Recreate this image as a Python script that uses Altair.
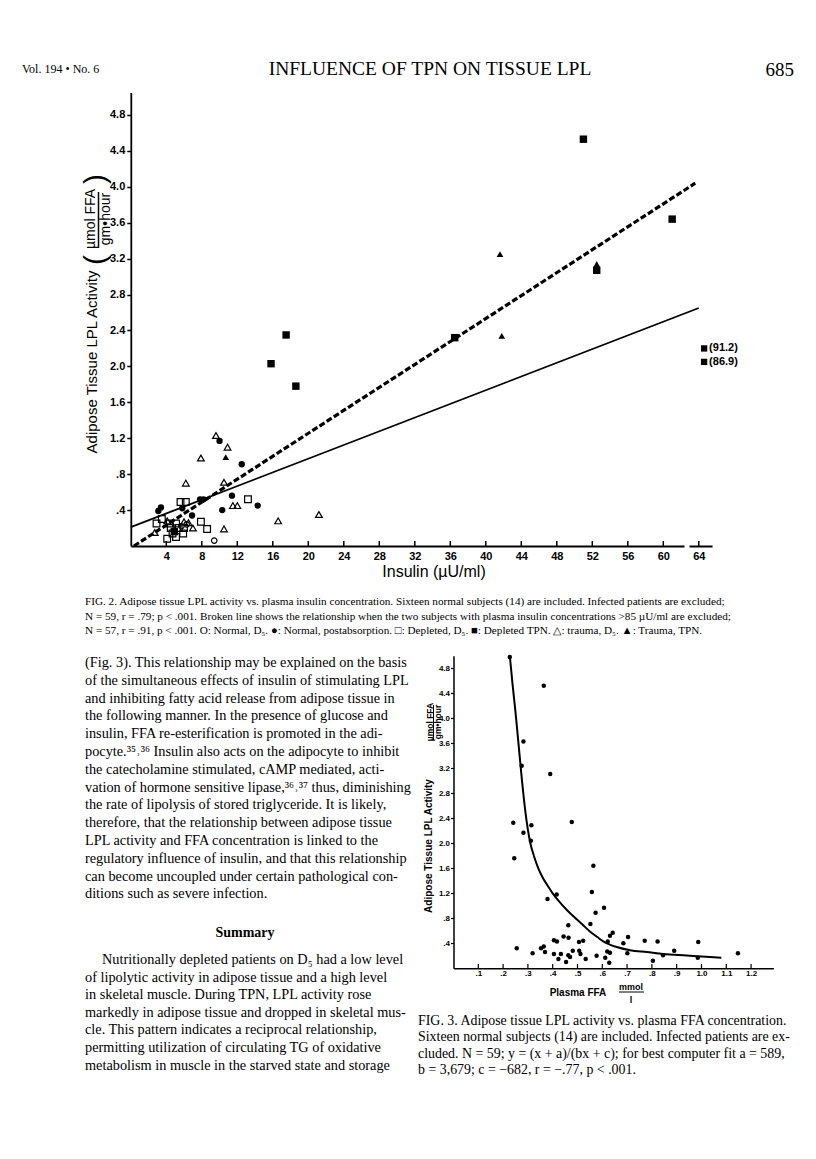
import altair as alt
import pandas as pd

# ---------------- Fig. 2 data (Insulin µU/ml vs LPL activity) ----------------
nd5_x = [9.4, 5.7, 6.3]                      # Normal, D5 (open circle)
nd5_y = [0.06, 0.22, 0.24]
npa_x = [10.0, 12.5, 11.4, 14.3, 10.3, 3.1, 3.4, 7.8, 8.2, 5.8, 6.9]   # Normal, postabsorption
npa_y = [1.17, 0.91, 0.56, 0.45, 0.40, 0.39, 0.43, 0.52, 0.52, 0.42, 0.34]
dd5_x = [13.2, 5.6, 6.2, 2.9, 3.5, 4.4, 5.1, 7.9, 8.6, 4.1, 4.7, 5.1, 5.9, 4.5, 5.4, 6.0]  # Depleted, D5
dd5_y = [0.52, 0.49, 0.49, 0.25, 0.30, 0.25, 0.25, 0.27, 0.19, 0.08, 0.14, 0.10, 0.14, 0.20, 0.20, 0.20]
dtpn_x = [15.8, 17.5, 18.6, 36.5, 51.0, 61.0, 52.5, 4.9]   # Depleted TPN
dtpn_y = [2.03, 2.35, 1.78, 2.32, 4.53, 3.64, 3.07, 0.16]
td5_x = [9.6, 10.9, 7.9, 6.2, 10.5, 11.5, 12.0, 4.1, 6.0, 6.5, 7.0, 10.5, 16.6, 21.2, 2.7]  # trauma, D5
td5_y = [1.23, 1.10, 0.98, 0.70, 0.71, 0.45, 0.45, 0.28, 0.27, 0.26, 0.20, 0.19, 0.28, 0.35, 0.15]
ttpn_x = [10.7, 41.6, 41.8, 52.5]            # Trauma, TPN
ttpn_y = [0.99, 3.25, 2.34, 3.14]

solid_x = [0.0, 64.0]
solid_y = [0.21, 2.65]
dashed_x = [0.35, 63.6]
dashed_y = [0.0, 4.04]

out_label = ["(91.2)", "(86.9)"]
out_y = [2.20, 2.05]
out_x = [64.6, 64.6]   # drawn just beyond the axis break

fig2_xticks = [4, 8, 12, 16, 20, 24, 28, 32, 36, 40, 44, 48, 52, 56, 60, 64]
fig2_yticks = [0.4, 0.8, 1.2, 1.6, 2.0, 2.4, 2.8, 3.2, 3.6, 4.0, 4.4, 4.8]

# ---------------- Fig. 3 data (Plasma FFA vs LPL activity) ----------------
ffa_x = [0.227, 0.364, 0.282, 0.275, 0.390, 0.241, 0.477, 0.282, 0.314, 0.312, 0.245,
         0.564, 0.558, 0.379, 0.416, 0.607, 0.573, 0.463, 0.552, 0.631, 0.642, 0.622,
         0.405, 0.417, 0.444, 0.464, 0.506, 0.523, 0.704, 0.685, 0.771, 0.823, 0.987,
         0.353, 0.364, 0.369, 0.319, 0.405, 0.433, 0.423, 0.454, 0.463, 0.470, 0.481,
         0.507, 0.512, 0.533, 0.577, 0.612, 0.620, 0.631, 0.628, 0.701, 0.804, 0.845,
         0.890, 0.985, 1.147, 0.255]
lpl_y = [4.98, 4.52, 3.63, 3.24, 3.11, 2.33, 2.34, 2.17, 2.29, 2.04, 1.76,
         1.64, 1.22, 1.11, 1.18, 0.97, 0.89, 0.69, 0.71, 0.52, 0.57, 0.43,
         0.45, 0.43, 0.51, 0.49, 0.42, 0.44, 0.50, 0.40, 0.44, 0.43, 0.42,
         0.32, 0.35, 0.26, 0.24, 0.23, 0.23, 0.15, 0.10, 0.21, 0.18, 0.28,
         0.28, 0.23, 0.15, 0.20, 0.17, 0.27, 0.25, 0.09, 0.24, 0.12, 0.21,
         0.28, 0.17, 0.24, 0.32]
curve_x = [0.228, 0.238, 0.250, 0.262, 0.275, 0.290, 0.310, 0.325, 0.342, 0.360, 0.380,
           0.400, 0.430, 0.460, 0.490, 0.520, 0.550, 0.580, 0.604, 0.630, 0.658, 0.712,
           0.780, 0.846, 0.940, 1.034, 1.080]
curve_y = [4.96, 4.55, 4.10, 3.60, 3.05, 2.50, 2.00, 1.79, 1.60, 1.45, 1.32,
           1.20, 1.05, 0.92, 0.81, 0.70, 0.59, 0.50, 0.43, 0.38, 0.34, 0.29,
           0.26, 0.23, 0.205, 0.18, 0.17]
fig3_xticks = [0.1, 0.2, 0.3, 0.4, 0.5, 0.6, 0.7, 0.8, 0.9, 1.0, 1.1, 1.2]
fig3_yticks = [0.4, 0.8, 1.2, 1.6, 2.0, 2.4, 2.8, 3.2, 3.6, 4.0, 4.4, 4.8]

# ---------------- Page text ----------------
header_left = "Vol. 194 • No. 6"
header_mid = "INFLUENCE OF TPN ON TISSUE LPL"
header_right = "685"
cap2 = [
    "FIG. 2. Adipose tissue LPL activity vs. plasma insulin concentration. Sixteen normal subjects (14) are included. Infected patients are excluded;",
    "N = 59, r = .79; p < .001. Broken line shows the relationship when the two subjects with plasma insulin concentrations >85 \u00b5U/ml are excluded;",
    "N = 57, r = .91, p < .001. O: Normal, D\u2085. \u25cf: Normal, postabsorption. \u25a1: Depleted, D\u2085. \u25a0: Depleted TPN. \u25b3: trauma, D\u2085. \u25b2: Trauma, TPN.",
]
body = [
    "(Fig. 3). This relationship may be explained on the basis",
    "of the simultaneous effects of insulin of stimulating LPL",
    "and inhibiting fatty acid release from adipose tissue in",
    "the following manner. In the presence of glucose and",
    "insulin, FFA re-esterification is promoted in the adi-",
    "pocyte.\u00b3\u2075\u02d2\u00b3\u2076 Insulin also acts on the adipocyte to inhibit",
    "the catecholamine stimulated, cAMP mediated, acti-",
    "vation of hormone sensitive lipase,\u00b3\u2076\u02d2\u00b3\u2077 thus, diminishing",
    "the rate of lipolysis of stored triglyceride. It is likely,",
    "therefore, that the relationship between adipose tissue",
    "LPL activity and FFA concentration is linked to the",
    "regulatory influence of insulin, and that this relationship",
    "can become uncoupled under certain pathological con-",
    "ditions such as severe infection.",
]
summary_head = "Summary"
summary_first = "Nutritionally depleted patients on D\u2085 had a low level"
summary_rest = [
    "of lipolytic activity in adipose tissue and a high level",
    "in skeletal muscle. During TPN, LPL activity rose",
    "markedly in adipose tissue and dropped in skeletal mus-",
    "cle. This pattern indicates a reciprocal relationship,",
    "permitting utilization of circulating TG of oxidative",
    "metabolism in muscle in the starved state and storage",
]
cap3 = [
    "FIG. 3. Adipose tissue LPL activity vs. plasma FFA concentration.",
    "Sixteen normal subjects (14) are included. Infected patients are ex-",
    "cluded. N = 59; y = (x + a)/(bx + c); for best computer fit a = 589,",
    "b = 3,679; c = \u2212682, r = \u2212.77, p < .001.",
]

W, H = 800, 1143
SANS = "Liberation Sans"
SERIF = "Liberation Serif"
LBL = "datum.value < 1 ? substring(format(datum.value, '.1f'), 1) : format(datum.value, '.1f')"

# ---------------- Fig. 2 scales / axes ----------------
sx2 = alt.Scale(domain=[0, 65.5], range=[122.8, 704.1], nice=False, zero=False)
sy2 = alt.Scale(domain=[0, 5.05], range=[538, 84.5], nice=False, zero=False)
ax2x = alt.Axis(orient="bottom", offset=538 - H, values=fig2_xticks, ticks=False, grid=False,
                title=None, labelPadding=4, labelFont=SANS, labelFontSize=11, labelFontWeight="bold",
                labelColor="black", domainColor="black", domainWidth=1.8, format="d",
                labelOverlap=False, labelFlush=False)
ay2 = alt.Axis(orient="left", offset=-122.8, values=fig2_yticks, tickSize=4, tickWidth=1.5,
               tickColor="black", grid=False, title=None, labelPadding=2, labelFont=SANS,
               labelFontSize=11, labelFontWeight="bold", labelColor="black", domainColor="black",
               domainWidth=1.8, labelExpr=LBL, labelOverlap=False, labelFlush=False)


def X2(f="x"):
    return alt.X(f + ":Q", scale=sx2, axis=ax2x)


def Y2(f="y"):
    return alt.Y(f + ":Q", scale=sy2, axis=ay2)


def pts2(xs, ys, shape, filled, size):
    df = pd.DataFrame({"x": xs, "y": ys})
    return alt.Chart(df).mark_point(shape=shape, filled=filled, size=size, color="black",
                                    strokeWidth=1.2, opacity=1).encode(x=X2(), y=Y2())


solid_df = pd.DataFrame({"x": solid_x, "y": solid_y})
dash_df = pd.DataFrame({"x": dashed_x, "y": dashed_y})
tick2_df = pd.DataFrame({"x": fig2_xticks, "y": [0.0] * len(fig2_xticks),
                         "y2": [0.055] * len(fig2_xticks)})
out_df = pd.DataFrame({"x": out_x, "y": out_y, "t": out_label})

fig2 = alt.layer(
    alt.Chart(tick2_df).mark_rule(color="black", strokeWidth=1.5).encode(x=X2(), y=Y2(), y2="y2:Q"),
    alt.Chart(solid_df).mark_line(color="black", strokeWidth=1.8).encode(x=X2(), y=Y2()),
    alt.Chart(dash_df).mark_line(color="black", strokeWidth=3.2, strokeDash=[6, 2.5]).encode(x=X2(), y=Y2()),
    pts2(nd5_x, nd5_y, "circle", False, 30),
    pts2(npa_x, npa_y, "circle", True, 40),
    pts2(dd5_x, dd5_y, "square", False, 45),
    pts2(dtpn_x, dtpn_y, "square", True, 55),
    pts2(td5_x, td5_y, "triangle-up", False, 45),
    pts2(ttpn_x, ttpn_y, "triangle-up", True, 45),
    alt.Chart(out_df).mark_point(shape="square", filled=True, size=40, color="black", opacity=1)
    .encode(x=X2(), y=Y2()),
    alt.Chart(out_df).mark_text(align="left", baseline="middle", dx=5, font=SANS, fontSize=11,
                                fontWeight="bold", color="black")
    .encode(x=X2(), y=Y2(), text="t:N"),
)

# ---------------- Fig. 3 scales / axes ----------------
sx3 = alt.Scale(domain=[0, 1.29], range=[445.5, 765.4], nice=False, zero=False)
sy3 = alt.Scale(domain=[0, 5.0], range=[960.3, 647.8], nice=False, zero=False)
ax3x = alt.Axis(orient="bottom", offset=960.3 - H, values=fig3_xticks, ticks=False, grid=False,
                title=None, labelPadding=1, labelFont=SANS, labelFontSize=8, labelFontWeight="bold",
                labelColor="black", domainColor="black", domainWidth=1.5, labelExpr=LBL,
                labelOverlap=False, labelFlush=False)
ay3 = alt.Axis(orient="left", offset=-445.5, values=fig3_yticks, tickSize=3, tickWidth=1.2,
               tickColor="black", grid=False, title=None, labelPadding=1, labelFont=SANS,
               labelFontSize=8, labelFontWeight="bold", labelColor="black", domainColor="black",
               domainWidth=1.5, labelExpr=LBL, labelOverlap=False, labelFlush=False)


def X3(f="x"):
    return alt.X(f + ":Q", scale=sx3, axis=ax3x)


def Y3(f="y"):
    return alt.Y(f + ":Q", scale=sy3, axis=ay3)


pts3_df = pd.DataFrame({"x": ffa_x, "y": lpl_y})
curve_df = pd.DataFrame({"x": curve_x, "y": curve_y})
tick3_df = pd.DataFrame({"x": fig3_xticks, "y": [0.0] * len(fig3_xticks),
                         "y2": [0.07] * len(fig3_xticks)})

fig3 = alt.layer(
    alt.Chart(tick3_df).mark_rule(color="black", strokeWidth=1.2).encode(x=X3(), y=Y3(), y2="y2:Q"),
    alt.Chart(curve_df).mark_line(color="black", strokeWidth=2, interpolate="monotone")
    .encode(x=X3(), y=Y3(), order="x:Q"),
    alt.Chart(pts3_df).mark_point(shape="circle", filled=True, size=20, color="black", opacity=1)
    .encode(x=X3(), y=Y3()),
)

# ---------------- text helpers ----------------
dummy = pd.DataFrame({"d": [0]})


def txt(text, x, y, font=SERIF, size=12, weight="normal", align="left", baseline="alphabetic",
        angle=0, line_height=None):
    kw = dict(text=text, font=font, fontSize=size, fontWeight=weight, align=align,
              baseline=baseline, angle=angle, color="black")
    if line_height is not None:
        kw["lineHeight"] = line_height
    return alt.Chart(dummy).mark_text(**kw).encode(x=alt.value(x), y=alt.value(y))


def rule(x, y, x2=None, y2=None, w=1.2, color="black"):
    enc = dict(x=alt.value(x), y=alt.value(y))
    if x2 is not None:
        enc["x2"] = alt.value(x2)
    if y2 is not None:
        enc["y2"] = alt.value(y2)
    return alt.Chart(dummy).mark_rule(color=color, strokeWidth=w).encode(**enc)


texts = [
    txt(header_left, 14, 65, size=12),
    txt(header_mid, 422, 67, size=19.5, align="center"),
    txt(header_right, 786, 68, size=19, align="right"),
    # axis break on Fig 2 x-axis
    rule(676.5, 538, x2=681.5, w=4, color="white"),
    # Fig 2 axis titles
    txt("Insulin (\u00b5U/ml)", 426, 564, font=SANS, size=16, align="center", baseline="middle"),
    txt("Adipose Tissue LPL Activity", 84, 354, font=SANS, size=15, align="center",
        baseline="middle", angle=270),
    txt("\u00b5mol FFA", 83, 211, font=SANS, size=14, align="center", baseline="middle", angle=270),
    rule(90.5, 184, y2=240, w=1.5),
    txt("gm\u2022hour", 97.5, 211, font=SANS, size=14, align="center", baseline="middle", angle=270),
    txt("(", 88, 252, font=SANS, size=30, align="center", baseline="middle", angle=270),
    txt(")", 88, 171, font=SANS, size=30, align="center", baseline="middle", angle=270),
    # Fig 2 caption
    txt(cap2, 77, 597, size=11.2, line_height=14.5),
    # body column
    txt(body, 77, 659, size=14.3, line_height=17.8),
    txt(summary_head, 237, 929, size=14, weight="bold", align="center"),
    txt(summary_first, 94, 956, size=14.3),
    txt(summary_rest, 77, 973.6, size=14.3, line_height=17.6),
    # Fig 3 axis titles
    txt("Adipose Tissue LPL Activity", 421, 838, font=SANS, size=10, weight="bold", align="center",
        baseline="middle", angle=270),
    txt("\u00b5mol FFA", 422, 714, font=SANS, size=8.5, weight="bold", align="center",
        baseline="middle", angle=270),
    rule(425.5, 697, y2=732, w=1),
    txt("gm\u2022hour", 429.5, 714, font=SANS, size=8.5, weight="bold", align="center",
        baseline="middle", angle=270),
    txt("Plasma FFA", 570, 985, font=SANS, size=10, weight="bold", align="center", baseline="middle"),
    txt("mmol", 623, 979, font=SANS, size=9, weight="bold", align="center", baseline="middle"),
    rule(611, 984, x2=636, w=1),
    txt("l", 623, 992, font=SANS, size=9, weight="bold", align="center", baseline="middle"),
    # Fig 3 caption
    txt(cap3, 410, 1017, size=13.9, line_height=16.4),
]

chart = alt.layer(fig2, fig3, *texts).resolve_scale(
    x="independent", y="independent"
).properties(
    width=W, height=H, autosize=alt.AutoSizeParams(type="none"), padding=0
).configure_view(stroke=None)

chart.save("out.html", embed_options={"renderer": "svg", "actions": False})
